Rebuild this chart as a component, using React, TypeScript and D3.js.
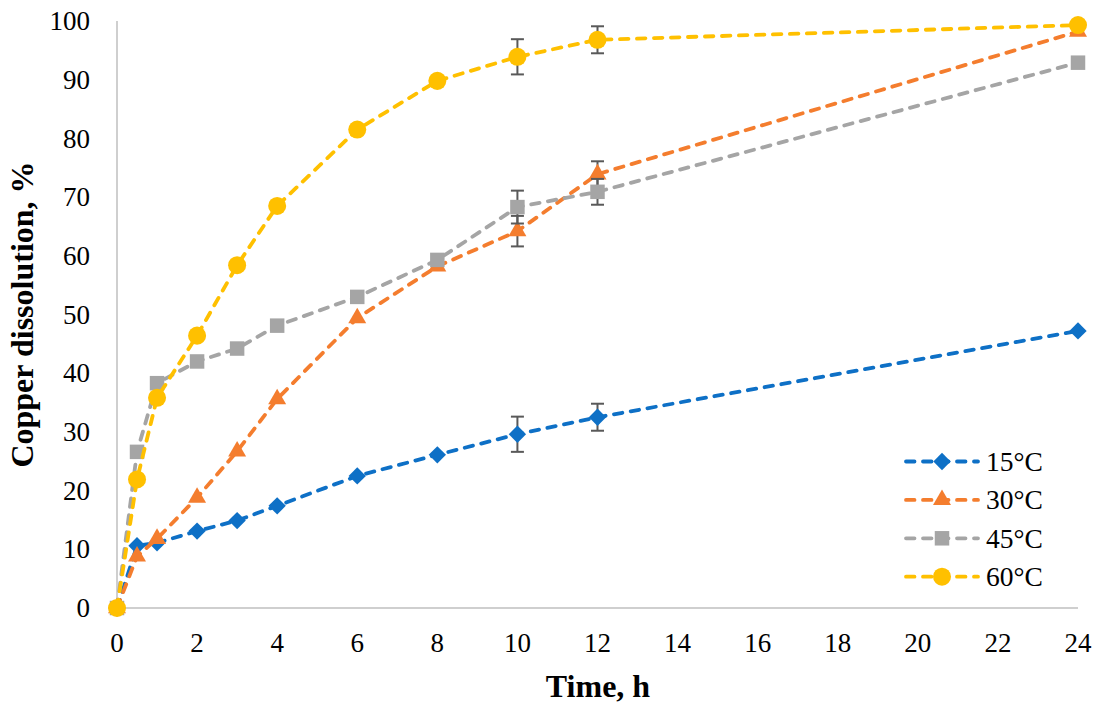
import { line, scaleLinear, symbol, symbolCircle, symbolSquare, symbolTriangle } from 'd3'

const WIDTH = 1101
const HEIGHT = 713
const LEFT = 117
const RIGHT = 1078
const TOP = 21
const BOTTOM = 608
const FONT = "'Liberation Serif', Tinos, 'DejaVu Serif', serif"

const times = [0, 0.5, 1, 2, 3, 4, 6, 8, 10, 12, 24]
const xTicks = [0, 2, 4, 6, 8, 10, 12, 14, 16, 18, 20, 22, 24]
const yTicks = [0, 10, 20, 30, 40, 50, 60, 70, 80, 90, 100]

const labels = ['15°C', '30°C', '45°C', '60°C']
const colors = ['#0E70C6', '#F47D2E', '#A5A5A5', '#FFC000']

const values15 = [0, 10.6, 11.1, 13.1, 14.9, 17.4, 22.5, 26.1, 29.6, 32.5, 47.2]
const values30 = [0, 8.8, 11.8, 18.8, 26.7, 35.6, 49.4, 58.2, 64.2, 73.9, 98.2]
const values45 = [0, 26.6, 38.3, 42.0, 44.2, 48.1, 53.0, 59.3, 68.3, 70.9, 92.9]
const values60 = [0, 21.9, 35.8, 46.4, 58.4, 68.5, 81.5, 89.8, 93.9, 96.8, 99.3]

const errors15 = [0, 0, 0, 0, 0, 0, 0, 0, 3.0, 2.3, 0]
const errors30 = [0, 0, 0, 0, 0, 0, 0, 0, 2.6, 2.2, 0]
const errors45 = [0, 0, 0, 0, 0, 0, 0, 0, 2.8, 2.2, 0]
const errors60 = [0, 0, 0, 0, 0, 0, 0, 0, 3.0, 2.3, 0]

const seriesValues = [values15, values30, values45, values60]
const seriesErrors = [errors15, errors30, errors45, errors60]

// diamond = rotated square, like Excel's marker
const markerPaths = [
  { d: symbol(symbolSquare, 150)() ?? '', rotate: 45 },
  { d: symbol(symbolTriangle, 140)() ?? '', rotate: 0 },
  { d: symbol(symbolSquare, 210)() ?? '', rotate: 0 },
  { d: symbol(symbolCircle, 255)() ?? '', rotate: 0 },
]

export default function App() {
  const xScale = scaleLinear().domain([0, 24]).range([LEFT, RIGHT])
  const yScale = scaleLinear().domain([0, 100]).range([BOTTOM, TOP])

  const pathFor = line<number>()
    .x((_, i) => xScale(times[i]))
    .y((v) => yScale(v))

  const legendY = (i: number) => 461.5 + i * 38.4

  return (
    <svg
      width={WIDTH}
      height={HEIGHT}
      style={{ position: 'absolute', left: 0, top: 0, background: '#fff', fontFamily: FONT }}
    >
      {/* axes */}
      <line x1={LEFT} x2={LEFT} y1={TOP} y2={BOTTOM} stroke="#BFBFBF" strokeWidth={1.5} />
      <line x1={LEFT} x2={RIGHT} y1={BOTTOM} y2={BOTTOM} stroke="#BFBFBF" strokeWidth={1.5} />

      {yTicks.map((t) => (
        <text key={t} x={90} y={yScale(t)} dy="0.34em" textAnchor="end" fontSize={27} fill="#000">
          {t}
        </text>
      ))}
      {xTicks.map((t) => (
        <text key={t} x={xScale(t)} y={652} textAnchor="middle" fontSize={27} fill="#000">
          {t}
        </text>
      ))}

      <text x={598} y={697} textAnchor="middle" fontSize={32} fontWeight="bold">
        Time, h
      </text>
      <text
        transform={`translate(33, ${(TOP + BOTTOM) / 2}) rotate(-90)`}
        textAnchor="middle"
        fontSize={32}
        fontWeight="bold"
      >
        Copper dissolution, %
      </text>

      {seriesValues.map((values, s) => (
        <g key={labels[s]}>
          <path
            d={pathFor(values) ?? ''}
            fill="none"
            stroke={colors[s]}
            strokeWidth={3.8}
            strokeDasharray="8.5 8.5"
            strokeLinecap="round"
          />
          {values.map((v, i) =>
            seriesErrors[s][i] > 0 ? (
              <g key={i} stroke="#595959" strokeWidth={2}>
                <line
                  x1={xScale(times[i])}
                  x2={xScale(times[i])}
                  y1={yScale(v + seriesErrors[s][i])}
                  y2={yScale(v - seriesErrors[s][i])}
                />
                <line
                  x1={xScale(times[i]) - 6.5}
                  x2={xScale(times[i]) + 6.5}
                  y1={yScale(v + seriesErrors[s][i])}
                  y2={yScale(v + seriesErrors[s][i])}
                />
                <line
                  x1={xScale(times[i]) - 6.5}
                  x2={xScale(times[i]) + 6.5}
                  y1={yScale(v - seriesErrors[s][i])}
                  y2={yScale(v - seriesErrors[s][i])}
                />
              </g>
            ) : null,
          )}
          {values.map((v, i) => (
            <path
              key={i}
              d={markerPaths[s].d}
              transform={`translate(${xScale(times[i])}, ${yScale(v)}) rotate(${markerPaths[s].rotate})`}
              fill={colors[s]}
            />
          ))}
        </g>
      ))}

      {/* legend */}
      {labels.map((label, s) => (
        <g key={label}>
          <line
            x1={906}
            x2={978}
            y1={legendY(s)}
            y2={legendY(s)}
            stroke={colors[s]}
            strokeWidth={3.8}
            strokeDasharray="8.5 8.5"
            strokeLinecap="round"
          />
          <path
            d={markerPaths[s].d}
            transform={`translate(942, ${legendY(s)}) rotate(${markerPaths[s].rotate})`}
            fill={colors[s]}
          />
          <text x={986} y={legendY(s)} dy="0.34em" fontSize={27.5} fill="#000">
            {label}
          </text>
        </g>
      ))}
    </svg>
  )
}
